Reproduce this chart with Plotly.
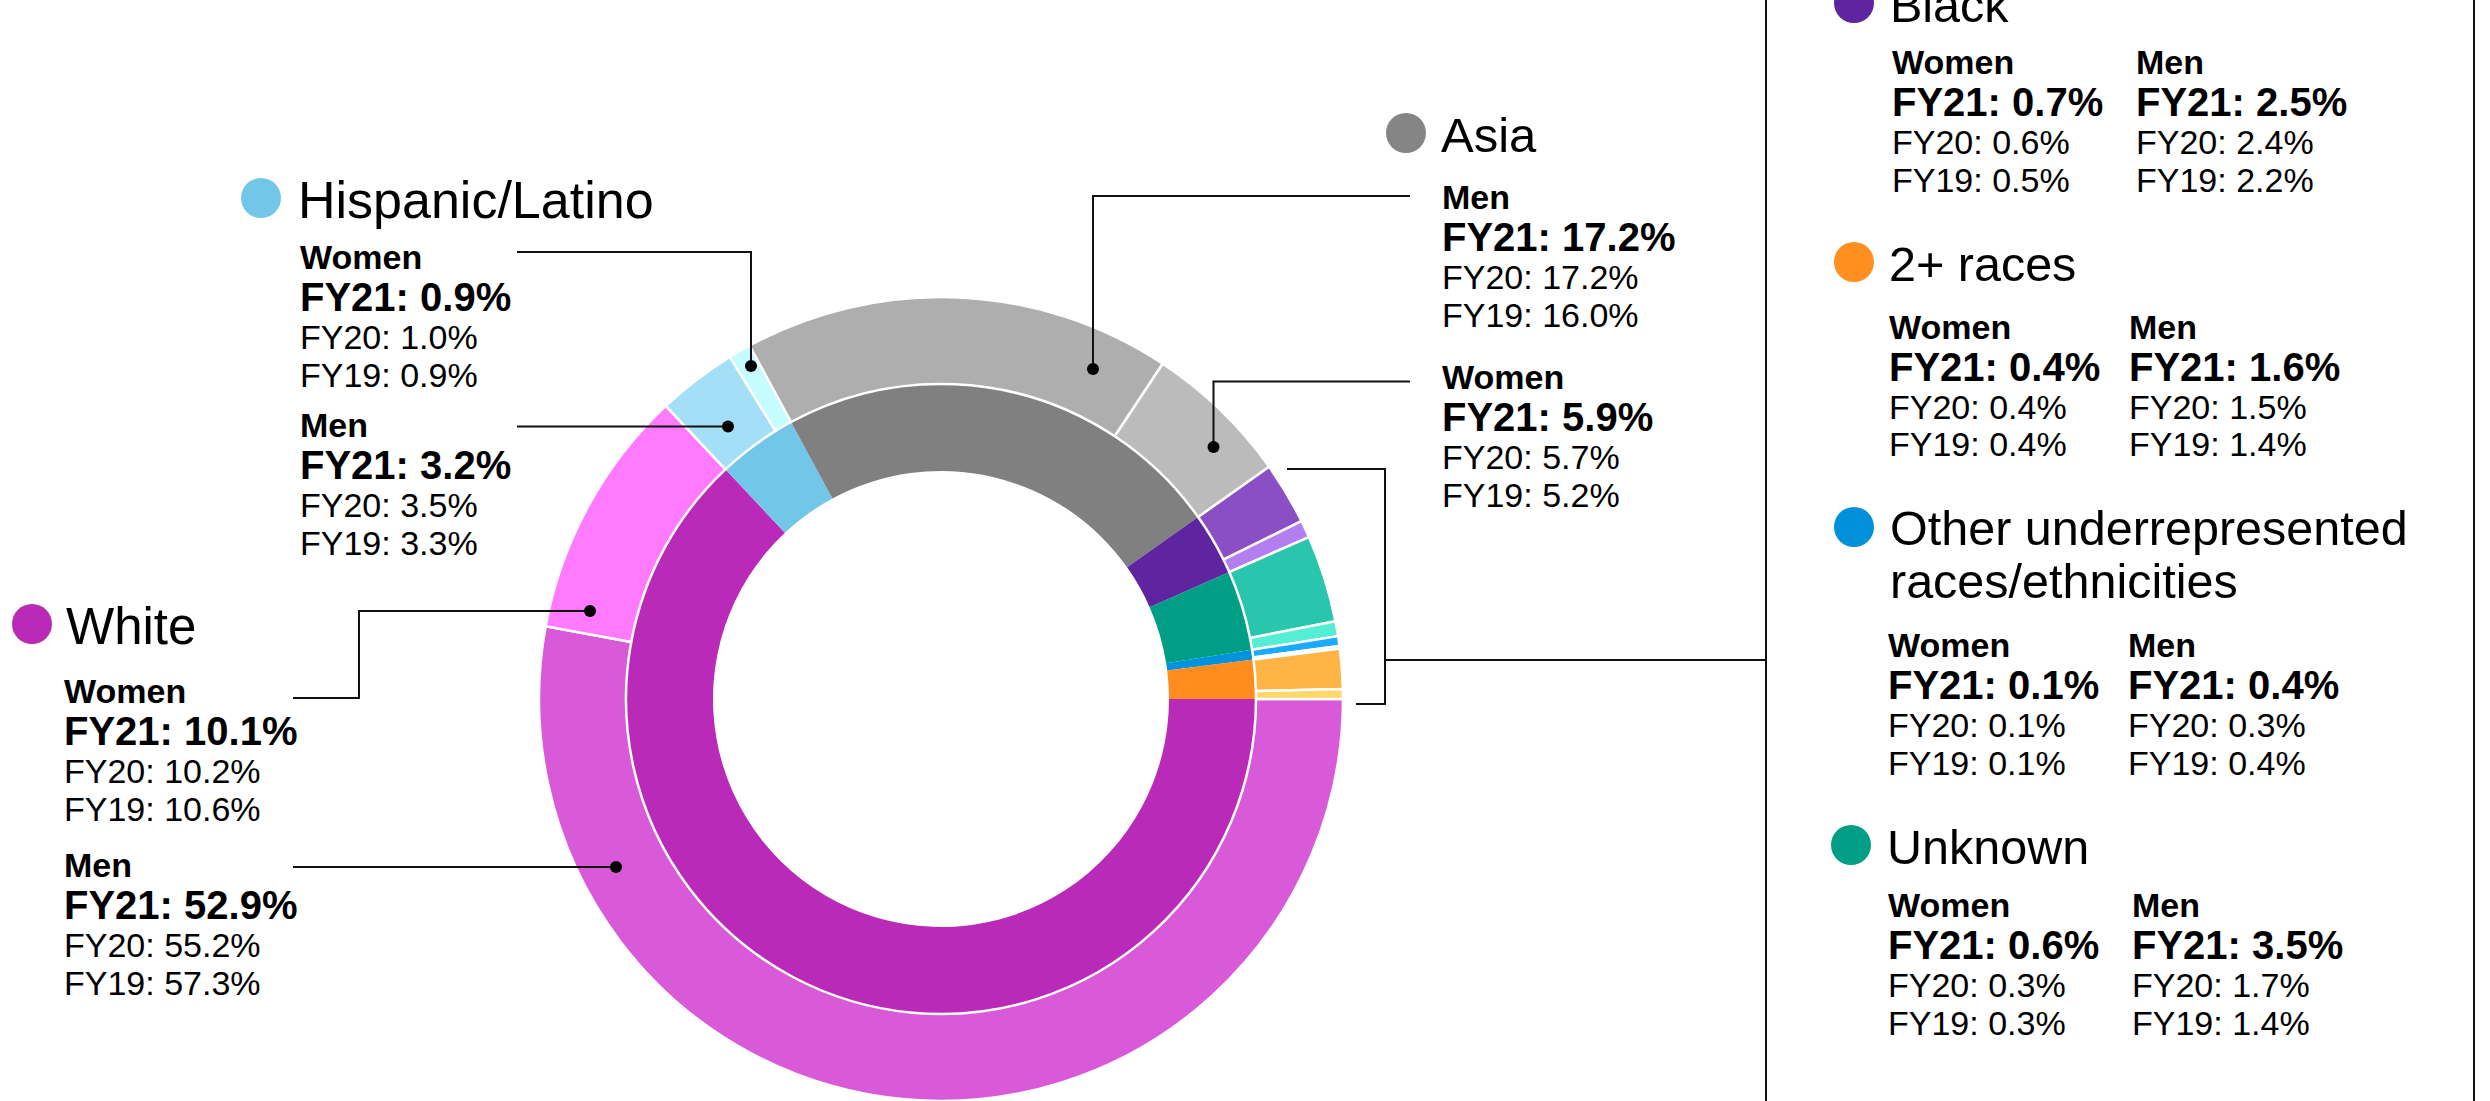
import plotly.graph_objects as go

# ---------------- data (FY21 drives the donut) ----------------
races = ["White", "Hispanic/Latino", "Asia", "Black", "Unknown",
         "Other underrepresented races/ethnicities", "2+ races"]
men_fy21 = [52.9, 3.2, 17.2, 2.5, 3.5, 0.4, 1.6]
women_fy21 = [10.1, 0.9, 5.9, 0.7, 0.6, 0.1, 0.4]
men_fy20 = [55.2, 3.5, 17.2, 2.4, 1.7, 0.3, 1.5]
women_fy20 = [10.2, 1.0, 5.7, 0.6, 0.3, 0.1, 0.4]
men_fy19 = [57.3, 3.3, 16.0, 2.2, 1.4, 0.4, 1.4]
women_fy19 = [10.6, 0.9, 5.2, 0.5, 0.3, 0.1, 0.4]

# ---------------- styles ----------------
race_colors = ["#B92AB8", "#72C6E8", "#808080", "#5F249F", "#009E85", "#0093DC", "#FF8C1E"]
men_colors = ["#D95AD8", "#A3E0F7", "#AEAEAE", "#8A4FC5", "#2AC5AD", "#1AABFF", "#FFB546"]
women_colors = ["#FF7AFF", "#C4FCFF", "#BBBBBB", "#B37EEF", "#55EED4", "#6CD4FF", "#FFD86A"]
dot_colors = ["#B92AB8", "#72C6E8", "#858585", "#5F249F", "#009E85", "#0091DA", "#FF8F1F"]

FONT = "Liberation Sans, Arial, Helvetica, sans-serif"
W, H = 2490, 1101
HDR, BIG, SMALL = 34, 40, 34

inner_vals = [m + w for m, w in zip(men_fy21, women_fy21)]
outer_vals, outer_labels, outer_colors = [], [], []
for i, r in enumerate(races):
    outer_vals += [men_fy21[i], women_fy21[i]]
    outer_labels += [r + " – Men", r + " – Women"]
    outer_colors += [men_colors[i], women_colors[i]]

# donut geometry (pixels)
CX, CY_B = 941, 402          # centre x, centre distance from bottom
R_OUT, R_MID, R_HOLE = 402, 315, 228


def dom(r):
    return dict(x=[(CX - r) / W, (CX + r) / W], y=[(CY_B - r) / H, (CY_B + r) / H])


fig = go.Figure()
fig.add_trace(go.Pie(values=inner_vals, labels=races, sort=False, direction="clockwise",
                     rotation=90, hole=R_HOLE / R_MID, domain=dom(R_MID),
                     marker=dict(colors=race_colors, line=dict(width=0)),
                     textinfo="none", showlegend=False, hoverinfo="label+value"))
fig.add_trace(go.Pie(values=outer_vals, labels=outer_labels, sort=False, direction="clockwise",
                     rotation=90, hole=R_MID / R_OUT, domain=dom(R_OUT),
                     marker=dict(colors=outer_colors, line=dict(color="white", width=2.5)),
                     textinfo="none", showlegend=False, hoverinfo="label+value"))

ann, shapes = [], []


def X(x):
    return x / W


def Y(y):
    return 1 - y / H


def label(x, base, txt, size, bold=False):
    ann.append(dict(x=X(x), y=Y(base - 0.3465 * size), xref="paper", yref="paper",
                    xanchor="left", yanchor="middle", showarrow=False,
                    text=f"<b>{txt}</b>" if bold else txt, borderpad=0, borderwidth=0,
                    font=dict(family=FONT, size=size, color="#000")))


def dot(cx, cy, d, color):
    shapes.append(dict(type="circle", xref="paper", yref="paper",
                       x0=X(cx - d / 2), x1=X(cx + d / 2), y0=Y(cy + d / 2), y1=Y(cy - d / 2),
                       fillcolor=color, line=dict(width=0)))


def path(points):
    d = "M " + " L ".join(f"{X(x):.6f},{Y(y):.6f}" for x, y in points)
    shapes.append(dict(type="path", xref="paper", yref="paper", path=d,
                       line=dict(color="#111", width=2)))


def title(i, dx, dy, tx, base, size, lines=None):
    dot(dx, dy, 40, dot_colors[i])
    for k, t in enumerate(lines or [races[i]]):
        label(tx, base + k * 53, t, size)


def stats(i, gender, x, base):
    if gender == "Men":
        v = (men_fy21[i], men_fy20[i], men_fy19[i])
    else:
        v = (women_fy21[i], women_fy20[i], women_fy19[i])
    label(x, base, gender, HDR, bold=True)
    label(x, base + 42, f"FY21: {v[0]:.1f}%", BIG, bold=True)
    label(x, base + 80, f"FY20: {v[1]:.1f}%", SMALL)
    label(x, base + 117.5, f"FY19: {v[2]:.1f}%", SMALL)


# Hispanic/Latino (left, upper)
title(1, 261, 198, 298, 218, 52)
stats(1, "Women", 300, 269)
stats(1, "Men", 300, 437)
# White (left, lower)
title(0, 32, 624, 66, 644, 51)
stats(0, "Women", 64, 703)
stats(0, "Men", 64, 877)
# Asia (middle)
title(2, 1406, 133, 1441, 152, 49)
stats(2, "Men", 1442, 209)
stats(2, "Women", 1442, 389)
# Right panel
title(3, 1854, 3, 1890, 22, 48.5)
stats(3, "Women", 1892, 74)
stats(3, "Men", 2136, 74)
title(6, 1854, 262, 1889, 281, 48.5)
stats(6, "Women", 1889, 338.5)
stats(6, "Men", 2129, 338.5)
title(5, 1854, 527, 1890, 545, 48.5, lines=["Other underrepresented", "races/ethnicities"])
stats(5, "Women", 1888, 657)
stats(5, "Men", 2128, 657)
title(4, 1851, 845, 1887, 864, 48.5)
stats(4, "Women", 1888, 917)
stats(4, "Men", 2132, 917)

# leader lines + pointer dots
path([(517, 252), (751, 252), (751, 366)]); dot(751, 366, 12, "#000")
path([(517, 426.5), (728, 426.5)]); dot(728, 426.5, 12, "#000")
path([(293, 698), (359, 698), (359, 611), (590, 611)]); dot(590, 611, 12, "#000")
path([(293, 867), (616, 867)]); dot(616, 867, 12, "#000")
path([(1410, 196), (1093, 196), (1093, 369)]); dot(1093, 369, 12, "#000")
path([(1410, 381.5), (1213.5, 381.5), (1213.5, 447)]); dot(1213.5, 447, 12, "#000")
path([(1287, 469), (1385, 469), (1385, 704), (1356, 704)])
path([(1385, 660), (1766, 660)])
path([(1766, -5), (1766, 1106)])
path([(2474, -5), (2474, 1106)])

fig.update_layout(width=W, height=H, margin=dict(l=0, r=0, t=0, b=0, pad=0),
                  paper_bgcolor="white", plot_bgcolor="white",
                  annotations=ann, shapes=shapes, showlegend=False)

fig.write_html("out.html", config={"displayModeBar": False},
               post_script="document.body.style.margin='0';document.body.style.overflow='hidden';")
